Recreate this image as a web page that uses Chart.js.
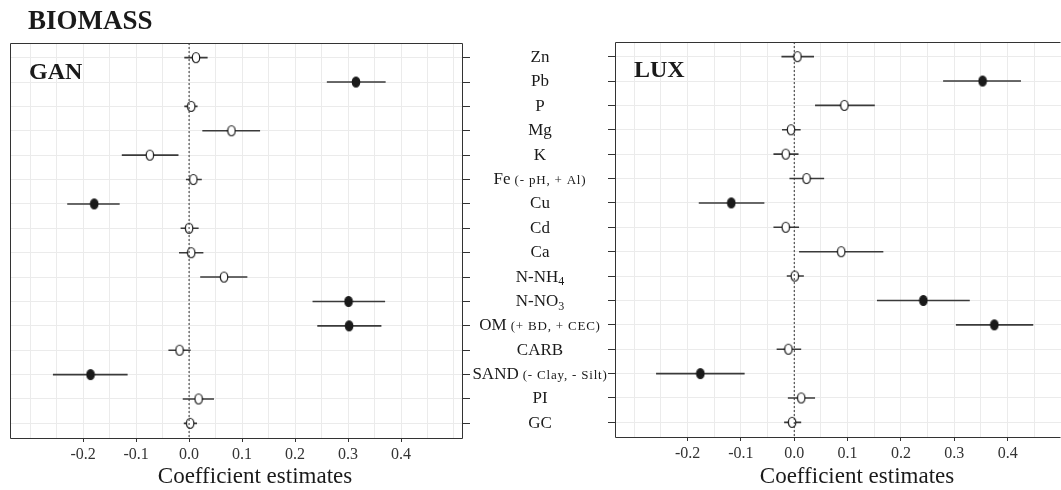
<!DOCTYPE html>
<html>
<head>
<meta charset="utf-8">
<script src="https://cdn.jsdelivr.net/npm/chart.js@4.4.1/dist/chart.umd.min.js"></script>
<style>
  body { margin: 0; background: #fff; }
  #wrap { position: relative; width: 1061px; height: 490px; }
  canvas { position: absolute; left: 0; top: 0; }
</style>
</head>
<body>
<div id="wrap">
  <canvas id="ganChart" width="1061" height="490"></canvas>
  <canvas id="luxChart" width="1061" height="490"></canvas>
</div>
<script>
// predictor names, top to bottom
const predictors = ['Zn', 'Pb', 'P', 'Mg', 'K', 'Fe', 'Cu', 'Cd', 'Ca', 'N-NH', 'N-NO', 'OM', 'CARB', 'SAND', 'PI', 'GC'];
const subscripts = ['', '', '', '', '', '', '', '', '', '4', '3', '', '', '', '', ''];
const notes = ['', '', '', '', '', '(- pH, + Al)', '', '', '', '', '', '(+ BD, + CEC)', '', '(- Clay, - Silt)', '', ''];

// GAN
const ganEst  = [0.013, 0.315, 0.004, 0.080, -0.074, 0.008, -0.179, 0.000, 0.004, 0.066, 0.301, 0.302, -0.018, -0.186, 0.018, 0.002];
const ganLow  = [-0.009, 0.260, -0.009, 0.025, -0.127, -0.006, -0.230, -0.016, -0.019, 0.021, 0.233, 0.242, -0.039, -0.257, -0.012, -0.010];
const ganHigh = [0.035, 0.371, 0.016, 0.134, -0.020, 0.024, -0.131, 0.018, 0.027, 0.110, 0.370, 0.363, 0.003, -0.116, 0.047, 0.015];
const ganSig  = [0, 1, 0, 0, 0, 0, 1, 0, 0, 0, 1, 1, 0, 1, 0, 0];

// LUX
const luxEst  = [0.006, 0.353, 0.094, -0.006, -0.016, 0.023, -0.118, -0.016, 0.088, 0.001, 0.242, 0.375, -0.011, -0.176, 0.013, -0.004];
const luxLow  = [-0.024, 0.279, 0.039, -0.023, -0.039, -0.009, -0.179, -0.039, 0.009, -0.014, 0.155, 0.303, -0.033, -0.259, -0.012, -0.019];
const luxHigh = [0.037, 0.425, 0.151, 0.012, 0.008, 0.056, -0.056, 0.009, 0.167, 0.018, 0.329, 0.448, 0.013, -0.093, 0.039, 0.013];
const luxSig  = [0, 1, 0, 0, 0, 0, 1, 0, 0, 0, 1, 1, 0, 1, 0, 0];

const xGrid = [-0.3, -0.25, -0.2, -0.15, -0.1, -0.05, 0, 0.05, 0.1, 0.15, 0.2, 0.25, 0.3, 0.35, 0.4, 0.45, 0.5];
const xLabels = [-0.2, -0.1, 0, 0.1, 0.2, 0.3, 0.4];

const serif = "'Liberation Serif', 'DejaVu Serif', serif";
const ink = '#1a1a1a';

function ellipseImage(filled) {
  const c = document.createElement('canvas');
  c.width = 10;
  c.height = 13;
  const g = c.getContext('2d');
  g.beginPath();
  g.ellipse(5, 6.5, 3.7, 5, 0, 0, 2 * Math.PI);
  g.fillStyle = filled ? ink : '#fff';
  g.fill();
  g.lineWidth = 1.2;
  g.strokeStyle = ink;
  g.stroke();
  return c;
}
const filledDot = ellipseImage(true);
const openDot = ellipseImage(false);

function drawLabel(ctx, cx, y, main, sub, note) {
  const mainFont = '17px ' + serif;
  const smallFont = '12px ' + serif;
  const noteFont = '13px ' + serif;
  ctx.font = mainFont;
  let w = ctx.measureText(main).width;
  ctx.font = smallFont;
  const ws = sub ? ctx.measureText(sub).width : 0;
  ctx.font = noteFont;
  ctx.letterSpacing = '0.8px';
  const wn = note ? ctx.measureText(note).width + 4 : 0;
  ctx.letterSpacing = '0px';
  let x = cx - (w + ws + wn) / 2;
  ctx.textAlign = 'left';
  ctx.textBaseline = 'middle';
  ctx.fillStyle = ink;
  ctx.font = mainFont;
  ctx.fillText(main, x, y);
  x += w;
  if (sub) {
    ctx.font = smallFont;
    ctx.fillText(sub, x, y + 5);
    x += ws;
  }
  if (note) {
    ctx.font = noteFont;
    ctx.letterSpacing = '0.8px';
    ctx.fillText(note, x + 4, y + 1);
    ctx.letterSpacing = '0px';
  }
}

function decor(opts) {
  return {
    id: 'decor',
    afterDraw(chart) {
      const ctx = chart.ctx;
      const a = chart.chartArea;
      ctx.save();
      // panel border
      ctx.strokeStyle = '#333';
      ctx.lineWidth = 1;
      ctx.beginPath();
      const l = Math.round(a.left) + 0.5, t = Math.round(a.top) + 0.5;
      const r = Math.round(a.right) - 0.5, b = Math.round(a.bottom) + 0.5;
      ctx.moveTo(r, t);
      ctx.lineTo(l, t);
      ctx.lineTo(l, b);
      ctx.lineTo(r, b);
      if (opts.closeRight) ctx.lineTo(r, t);
      ctx.stroke();

      ctx.fillStyle = ink;
      ctx.textBaseline = 'middle';
      ctx.textAlign = 'left';
      ctx.font = 'bold 24px ' + serif;
      ctx.fillText(opts.panel, a.left + opts.panelDx, a.top + opts.panelDy);
      if (opts.heading) {
        ctx.font = 'bold 27px ' + serif;
        ctx.fillText(opts.heading, 28, 22);
      }
      ctx.textAlign = 'center';
      ctx.font = '23px ' + serif;
      ctx.fillText('Coefficient estimates', a.left + opts.titleDx, 477);

      if (opts.labels) {
        const ys = chart.scales.y;
        predictors.forEach((p, i) => {
          drawLabel(ctx, a.right + 77, ys.getPixelForValue(i + 1), p, subscripts[i], notes[i]);
        });
      }
      ctx.restore();
    }
  };
}

function makeChart(id, est, low, high, sig, xmin, xmax, yPos, plugin, padding, axisHeight, axisWidth) {
  const points = est.map((v, i) => ({ x: v, y: i + 1 }));
  const bars = [];
  low.forEach((v, i) => {
    bars.push({ x: v, y: i + 1 }, { x: high[i], y: i + 1 }, { x: null, y: null });
  });
  const zero = [{ x: 0, y: 0.4 }, { x: 0, y: predictors.length + 0.6 }];

  return new Chart(document.getElementById(id), {
    type: 'scatter',
    data: {
      datasets: [
        {
          data: zero,
          showLine: true,
          borderColor: '#333',
          borderWidth: 1,
          borderDash: [2, 2],
          pointRadius: 0
        },
        {
          data: points,
          pointStyle: sig.map(s => (s ? filledDot : openDot)),
          pointRadius: 5
        },
        {
          data: bars,
          showLine: true,
          spanGaps: false,
          borderColor: '#3a3a3a',
          borderWidth: 1.6,
          pointRadius: 0
        }
      ]
    },
    options: {
      responsive: false,
      animation: false,
      layout: { padding: padding, autoPadding: false },
      plugins: { legend: { display: false }, tooltip: { enabled: false } },
      scales: {
        x: {
          type: 'linear',
          min: xmin,
          max: xmax,
          afterBuildTicks: s => { s.ticks = xGrid.map(v => ({ value: v })); },
          afterFit: s => {
            s.height = axisHeight;
            s.paddingLeft = 0;
            s.paddingRight = 0;
          },
          border: { display: false },
          grid: {
            color: '#ebebeb',
            lineWidth: 1,
            tickLength: 4,
            tickColor: c => (c.tick && xLabels.includes(c.tick.value) ? '#333' : 'rgba(0,0,0,0)')
          },
          ticks: {
            autoSkip: false,
            maxRotation: 0,
            padding: 3,
            color: '#333',
            font: { family: serif, size: 16 },
            callback: v => (xLabels.includes(v) ? v.toFixed(1) : '')
          }
        },
        y: {
          type: 'linear',
          position: yPos,
          reverse: true,
          min: 0.4,
          max: predictors.length + 0.6,
          afterBuildTicks: s => { s.ticks = predictors.map((p, i) => ({ value: i + 1 })); },
          afterFit: s => { s.width = axisWidth; },
          border: { display: false },
          grid: { color: '#ebebeb', lineWidth: 1, tickLength: 7, tickColor: '#333' },
          ticks: { padding: 0, callback: () => '' }
        }
      }
    },
    plugins: [plugin]
  });
}

makeChart('ganChart', ganEst, ganLow, ganHigh, ganSig, -0.338, 0.517, 'right',
  decor({ panel: 'GAN', panelDx: 19, panelDy: 30, titleDx: 245, heading: 'BIOMASS', labels: true, closeRight: true }),
  { left: 10, top: 43, right: 0, bottom: 0 }, 52, 598);

// the right panel runs off the picture's edge
makeChart('luxChart', luxEst, luxLow, luxHigh, luxSig, -0.336, 0.5, 'left',
  decor({ panel: 'LUX', panelDx: 19, panelDy: 29, titleDx: 242, labels: false, closeRight: false }),
  { left: 0, top: 42, right: 0, bottom: 0 }, 53, 615);
</script>
</body>
</html>
